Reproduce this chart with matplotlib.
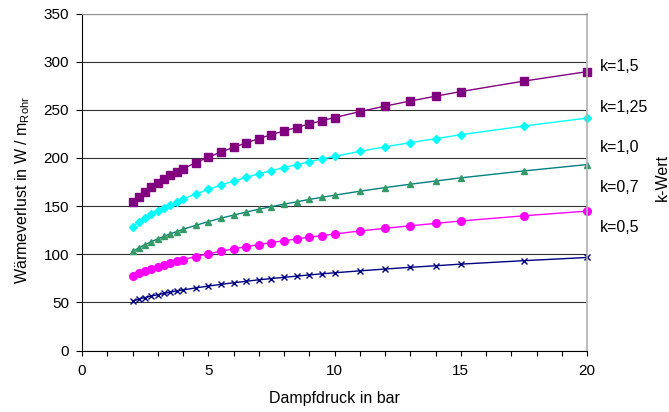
import matplotlib.pyplot as plt
from matplotlib.ticker import MultipleLocator

plt.rcParams['font.family'] = ['Liberation Sans', 'DejaVu Sans']

# Dampfdruck in bar
druck = [2, 2.25, 2.5, 2.75, 3, 3.25, 3.5, 3.75, 4, 4.5, 5, 5.5, 6, 6.5, 7, 7.5,
         8, 8.5, 9, 9.5, 10, 11, 12, 13, 14, 15, 17.5, 20]

# Waermeverlust in W/m fuer die k-Werte
k15 = [154.3, 159.9, 164.9, 169.6, 173.8, 177.9, 181.8, 185.3, 188.7, 195.0,
       200.7, 206.1, 211.0, 215.6, 220.1, 224.2, 228.0, 231.6, 235.3, 238.7,
       241.9, 248.1, 253.8, 259.1, 264.1, 268.9, 279.8, 289.6]
k125 = [128.6, 133.3, 137.4, 141.4, 144.9, 148.3, 151.5, 154.4, 157.3, 162.5,
        167.3, 171.8, 175.8, 179.8, 183.4, 186.8, 190.0, 193.0, 196.1, 198.9,
        201.6, 206.8, 211.5, 215.9, 220.0, 224.1, 233.1, 241.4]
k10 = [102.9, 106.6, 109.9, 113.1, 115.9, 118.6, 121.2, 123.5, 125.8, 130.0,
       133.8, 137.4, 140.6, 143.8, 146.7, 149.4, 152.0, 154.4, 156.9, 159.1,
       161.3, 165.4, 169.2, 172.7, 176.0, 179.3, 186.5, 193.1]
k07 = [77.2, 80.0, 82.4, 84.8, 86.9, 89.0, 90.9, 92.6, 94.4, 97.5,
       100.4, 103.1, 105.5, 107.9, 110.0, 112.1, 114.0, 115.8, 117.7, 119.3,
       121.0, 124.1, 126.9, 129.5, 132.0, 134.5, 139.9, 144.8]
k05 = [51.5, 53.3, 55.0, 56.6, 58.0, 59.3, 60.6, 61.8, 62.9, 65.0,
       66.9, 68.7, 70.3, 71.9, 73.4, 74.7, 76.0, 77.2, 78.5, 79.6,
       80.7, 82.7, 84.6, 86.4, 88.0, 89.7, 93.3, 96.6]

labels = ['k=1,5', 'k=1,25', 'k=1,0', 'k=0,7', 'k=0,5']
label_pos = [71, 112.5, 152.5, 192.5, 232.5]  # Baseline in Pixel von oben

W, H = 669, 412
fig = plt.figure(figsize=(W/100, H/100), dpi=100)
ax = fig.add_axes([82/W, 1 - 350.5/H, 505/W, 337/H])

ax.plot(druck, k15, color='#800080', lw=1, marker='s', ms=5.5, clip_on=False)
ax.plot(druck, k125, color='#00FFFF', lw=1, marker='D', ms=4.5, clip_on=False)
ax.plot(druck, k10, color='#008080', lw=1, marker='^', ms=5,
        mfc='#339966', mec='#339966', clip_on=False)
ax.plot(druck, k07, color='#FF00FF', lw=1, marker='o', ms=5.5, clip_on=False)
ax.plot(druck, k05, color='#000080', lw=1, marker='x', ms=5, mew=1,
        clip_on=False)

ax.set_xlim(0, 20)
ax.set_ylim(0, 350)
ax.set_xticks(range(0, 21))
ax.set_xticklabels([str(v) if v % 5 == 0 else '' for v in range(0, 21)])
ax.yaxis.set_major_locator(MultipleLocator(50))
ax.tick_params(axis='both', direction='out', width=0.8, labelsize=11,
               colors='black')
ax.tick_params(axis='x', length=3.3, pad=6.5)
ax.tick_params(axis='y', length=4.3, pad=5)

ax.grid(axis='y', color='#303030', lw=0.8)
ax.set_axisbelow(True)
ax.spines['top'].set_color('#909090')
ax.spines['right'].set_color('#b0b0b0')
ax.spines['right'].set_linewidth(1.2)

ax.set_xlabel('Dampfdruck in bar', fontsize=11.5, labelpad=9)
ax.set_ylabel(r'Wärmeverlust in W / m$_\mathregular{Rohr}$', fontsize=11.5)
ax.yaxis.set_label_coords(-50/505, 0.475)

for txt, py in zip(labels, label_pos):
    fig.text(600/W, 1 - py/H, txt, fontsize=11.5, va='baseline', ha='left')
fig.text(662/W, 1 - 177/H, 'k-Wert', rotation=90, fontsize=11.5,
         va='center', ha='center')

fig.savefig('out.png', dpi=100)
